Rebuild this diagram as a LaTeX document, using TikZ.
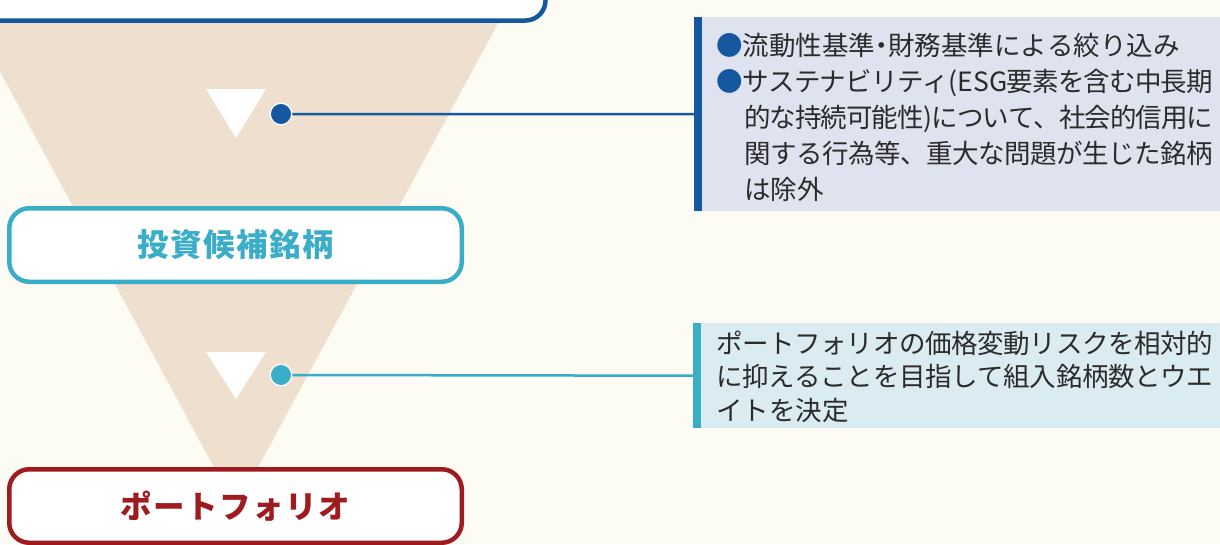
\documentclass[tikz,border=0pt]{standalone}
\usepackage{fontspec}
\setmainfont{Noto Sans CJK JP}
\newfontfamily\spacedfont{Noto Sans CJK JP}[LetterSpace=5]
\XeTeXlinebreaklocale "ja"
\XeTeXlinebreakskip=0pt plus 4pt minus 1.5pt
\tolerance=9999
\definecolor{bgcol}{HTML}{FCFBF4}
\definecolor{funnelcol}{HTML}{EEDFCE}
\definecolor{navy}{HTML}{15589F}
\definecolor{tealc}{HTML}{3AADC9}
\definecolor{maroon}{HTML}{9E1B20}
\definecolor{lavcol}{HTML}{DFE3F0}
\definecolor{lbluecol}{HTML}{DAEBF2}
\definecolor{txtcol}{HTML}{2B2B2B}
\newcommand{\nakaguro}{\kern-0.25em・\kern-0.25em}
\tikzset{
  stagebox/.style={draw, fill=white, line width=4.5pt, rounded corners=20pt,
    minimum width=452.5pt, minimum height=73.5pt, inner sep=0pt,
    font=\spacedfont\bfseries\fontsize{31.5}{36}\selectfont},
  dotnode/.style={circle, draw=white, line width=1.2pt, minimum size=21.5pt, inner sep=0pt},
  conn/.style={line width=2.5pt},
  notebox/.style={anchor=north west, inner sep=0pt, minimum width=527pt},
  notetext/.style={anchor=base west, inner sep=0pt, text width=497pt, align=justify, text=txtcol},
}
\begin{document}
\begin{tikzpicture}[x=1pt,y=-1pt]
\useasboundingbox (0,0) rectangle (1220,544);
\clip (0,0) rectangle (1220,544);
\fill[bgcol] (0,0) rectangle (1220,544);
% funnel
\fill[funnelcol] (-44,-10) -- (516,-10) -- (236,508) -- cycle;
% top stage box (text cut off above)
\node[stagebox, draw=navy, minimum width=575.5pt, minimum height=80.5pt] (topbox) at (257.75,-19.75) {};
% candidate box
\node[stagebox, draw=tealc, text=tealc] (cand) at (235.5,245) {投資候補銘柄};
% portfolio box
\node[stagebox, draw=maroon, text=maroon] (port) at (235.5,506) {ポートフォリオ};
% down triangles
\fill[white] (206,89) -- (266,89) -- (236,138) -- cycle;
\fill[white] (206,352) -- (266,352) -- (236,399) -- cycle;
% note boxes
\node[notebox, fill=lavcol, minimum height=194pt] (note1) at (694,17) {};
\fill[navy] (note1.north west) rectangle ([xshift=7.5pt]note1.south west);
\node[notebox, fill=lbluecol, minimum height=105pt] (note2) at (693,323) {};
\fill[tealc] (note2.north west) rectangle ([xshift=7.5pt]note2.south west);
% dots and connectors
\node[dotnode, fill=navy] (dot1) at (281,114) {};
\node[dotnode, fill=tealc] (dot2) at (281,375) {};
\draw[conn, navy] (dot1.east) -- (note1.west);
\draw[conn, tealc] (dot2.east) -- (note2.west);
% note texts
\node[notetext, font=\fontsize{26.5}{36.2}\selectfont] (text1) at (716,55) {%
{\color{navy}●}流動性基準\nakaguro 財務基準による絞り込み\par
\hangindent=1.05em\hangafter=1 {\color{navy}●}サステナビリティ(ESG要素を含む中長期\linebreak 的な持続可能性)について、社会的信用に\linebreak 関する行為等、重大な問題が生じた銘柄\linebreak は除外\par};
\node[notetext, font=\fontsize{26.5}{33.5}\selectfont] (text2) at (716,353) {%
ポートフォリオの価格変動リスクを相対的\linebreak に抑えることを目指して組入銘柄数とウエ\linebreak イトを決定\par};
\end{tikzpicture}
\end{document}
